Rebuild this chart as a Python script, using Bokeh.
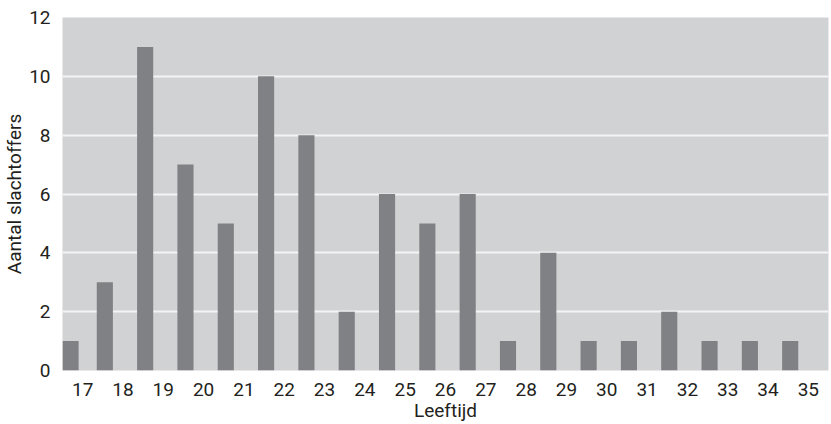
from bokeh.plotting import figure
from bokeh.models import Range1d, FixedTicker, ColumnDataSource
from bokeh.embed import file_html
from bokeh.resources import INLINE

# Data
ages = [17, 18, 19, 20, 21, 22, 23, 24, 25, 26, 27, 28, 29, 30, 31, 32, 33, 34, 35]
counts = [1, 3, 11, 7, 5, 10, 8, 2, 6, 5, 6, 1, 4, 1, 1, 2, 1, 1, 1]
y_ticks = [0, 2, 4, 6, 8, 10, 12]
x_title = "Leeftijd"
y_title = "Aantal slachtoffers"

# Styling
BG = "#d1d2d4"
BAR = "#808184"
TXT = "#231f20"
FONT = "Roboto"
FS = "19px"
x_lo, x_hi = ages[0] - 0.5, ages[-1] + 0.5
bar_w = 0.4
shift = 0.45  # bars sit just left of their labels in the original

x_pos = [max(a - shift, x_lo + bar_w / 2) for a in ages]
src = ColumnDataSource(dict(x=x_pos, top=counts))

p = figure(width=831, height=424, output_backend="svg", toolbar_location=None,
           x_range=Range1d(x_lo, x_hi), y_range=Range1d(0, 12),
           min_border_left=62, min_border_right=3, min_border_top=17, min_border_bottom=53)
p.background_fill_color = BG
p.border_fill_color = "white"
p.outline_line_color = None

p.vbar(x="x", top="top", bottom=0, width=bar_w, source=src, fill_color=BAR, line_color=None)

p.xgrid.grid_line_color = None
p.ygrid.ticker = FixedTicker(ticks=y_ticks[1:-1])
p.ygrid.grid_line_color = "#f4f4f4"
p.ygrid.grid_line_width = 2

for ax in (p.xaxis[0], p.yaxis[0]):
    ax.axis_line_color = None
    ax.major_tick_line_color = None
    ax.minor_tick_line_color = None
    ax.major_label_text_font = FONT
    ax.major_label_text_font_size = FS
    ax.major_label_text_color = TXT
    ax.axis_label_text_font = FONT
    ax.axis_label_text_font_size = FS
    ax.axis_label_text_font_style = "normal"
    ax.axis_label_text_color = TXT

p.xaxis.ticker = FixedTicker(ticks=ages)
p.yaxis.ticker = FixedTicker(ticks=y_ticks)
p.xaxis.axis_label = x_title
p.yaxis.axis_label = y_title
p.xaxis.major_label_standoff = 6
p.xaxis.axis_label_standoff = 0
p.yaxis.major_label_standoff = 6
p.yaxis.axis_label_standoff = 0

open("out.html", "w").write(file_html(p, INLINE))
